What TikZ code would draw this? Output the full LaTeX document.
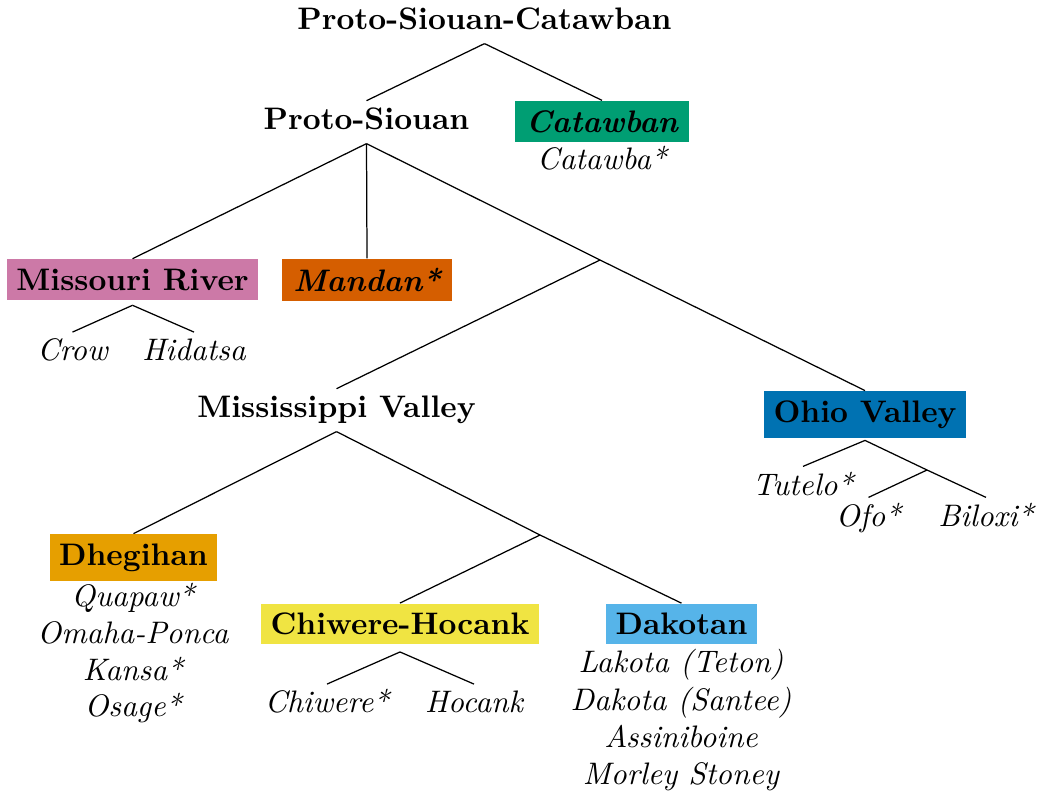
\documentclass[tikz,border=0pt]{standalone}
\usetikzlibrary{calc}
% Okabe-Ito palette for the language groups
\definecolor{cbgreen}{RGB}{0,158,115}
\definecolor{cbpurple}{RGB}{204,121,167}
\definecolor{cbvermillion}{RGB}{213,94,0}
\definecolor{cbblue}{RGB}{0,114,178}
\definecolor{cborange}{RGB}{230,159,0}
\definecolor{cbyellow}{RGB}{240,228,66}
\definecolor{cbsky}{RGB}{86,180,233}
\begin{document}
\begin{tikzpicture}[x=0.3215pt,y=-0.3215pt,
  lbl/.style={inner sep=0.4pt,text height=8.6pt,text depth=4pt,anchor=base,font=\bfseries},
  leaf/.style={inner sep=0.4pt,text height=8.6pt,text depth=4pt,anchor=base,font=\itshape},
  item/.style={inner sep=0pt,anchor=base,font=\itshape},
  grp/.style={inner sep=3pt,font=\bfseries},
  grpit/.style={grp,inner xsep=3.5pt,font=\bfseries\itshape},
  branch/.style={draw=black,line width=0.4pt}]
\useasboundingbox (0,0) rectangle (1037,799);

% inner nodes
\node[lbl] (psc) at (484.5,29.3) {Proto-Siouan-Catawban};
\node[lbl] (ps) at (366.5,129.3) {Proto-Siouan};
\node[lbl] (mv) at (336.5,417.3) {Mississippi Valley};

% coloured groups
\node[grpit,fill=cbgreen] (cat) at (602,121.5) {Catawban};
\node[grp,fill=cbpurple] (mr) at (132.5,279.5) {Missouri River};
\node[grpit,fill=cbvermillion] (man) at (367,280) {Mandan*};
\node[grp,fill=cbblue] (ov) at (865,414.5) {Ohio Valley};
\node[grp,fill=cborange] (dh) at (133.5,557.5) {Dhegihan};
\node[grp,fill=cbyellow] (ch) at (400,624) {Chiwere-Hocank};
\node[grp,fill=cbsky] (dk) at (681.5,624) {Dakotan};

% unlabelled branching points
\coordinate (jps) at (600,260);
\coordinate (jmv) at (540,535);
\coordinate (jov) at (927,470);

% languages
\node[item] (catawba) at (602,169.3) {Catawba*};
\node[leaf] (crow) at (72.5,360.7) {Crow};
\node[leaf] (hid) at (194,360.7) {Hidatsa};
\node[leaf] (tut) at (803,495) {Tutelo*};
\node[leaf] (ofo) at (868.5,526) {Ofo*};
\node[leaf] (bil) at (986,526) {Biloxi*};
\node[item] (qua) at (133,606.7) {Quapaw*};
\node[item] (oma) at (133,643.3) {Omaha-Ponca};
\node[item] (kan) at (133,680) {Kansa*};
\node[item] (osa) at (133,716.7) {Osage*};
\node[leaf] (chi) at (327,712.7) {Chiwere*};
\node[leaf] (hoc) at (474,712.7) {Hocank};
\node[item] (lak) at (681,672.7) {Lakota (Teton)};
\node[item] (dak) at (681,710) {Dakota (Santee)};
\node[item] (ass) at (681,747) {Assiniboine};
\node[item] (mor) at (681,784) {Morley Stoney};

% branches
\draw[branch] (psc.south) -- (ps.north);
\draw[branch] (psc.south) -- (cat.north);
\draw[branch] (ps.south) -- (mr.north);
\draw[branch] (ps.south) -- (man.north);
\draw[branch] (ps.south) -- (jps);
\draw[branch] (jps) -- (mv.north);
\draw[branch] (jps) -- (ov.north);
\draw[branch] (mr.south) ++(0,5) -- (crow.north);
\draw[branch] (mr.south) ++(0,5) -- (hid.north);
\draw[branch] (ov.south) ++(0,2) -- (tut.north);
\draw[branch] (ov.south) ++(0,2) -- (jov);
\draw[branch] (jov) -- (bil.north);
\draw[branch] (jov) -- (ofo.north);
\draw[branch] (mv.south) -- (dh.north);
\draw[branch] (mv.south) -- (jmv);
\draw[branch] (jmv) -- (ch.north);
\draw[branch] (jmv) -- (dk.north);
\draw[branch] (ch.south) ++(0,7) -- (chi.north);
\draw[branch] (ch.south) ++(0,7) -- (hoc.north);
\end{tikzpicture}
\end{document}
